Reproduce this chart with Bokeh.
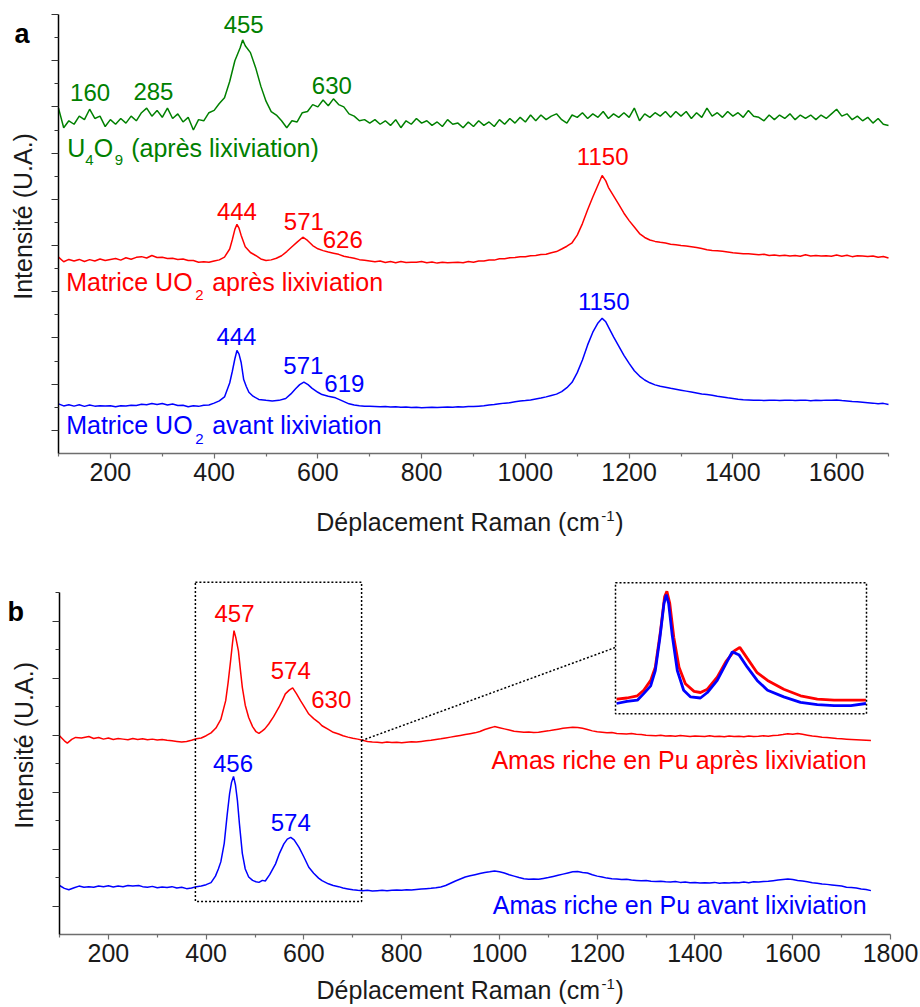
from math import pi
from bokeh.plotting import figure
from bokeh.layouts import column
from bokeh.models import FixedTicker, Range1d, Label
from bokeh.embed import file_html
from bokeh.resources import INLINE

FONT = "Liberation Sans"
GREEN, RED, BLUE = "#008000", "#ff0000", "#0000ff"

# ---------------- panel a data (Raman shift cm-1, stacked intensity a.u.) -------------
GA_X = [100,110,120,130,140,150,160,170,180,190,200,210,220,230,240,250,260,270,280,290,
        300,310,320,330,340,350,360,370,380,390,400,410,420,430,440,450,455,460,470,480,
        490,500,510,520,530,540,550,560,570,580,590,600,610,620,630,640,650,660,670,680,
        690,700,710,720,730,740,750,760,770,780,790,800,810,820,830,840,850,860,870,880,
        890,900,910,920,930,940,950,960,970,980,990,1000,1010,1020,1030,1040,1050,1060,1070,1080,
        1090,1100,1110,1120,1130,1140,1150,1160,1170,1180,1190,1200,1210,1220,1230,1240,1250,1260,1270,1280,
        1290,1300,1310,1320,1330,1340,1350,1360,1370,1380,1390,1400,1410,1420,1430,1440,1450,1460,1470,1480,
        1490,1500,1510,1520,1530,1540,1550,1560,1570,1580,1590,1600,1610,1620,1630,1640,1650,1660,1670,1680,
        1690,1700]
GA_Y = [14.95,14.10,14.40,14.25,14.60,14.45,14.90,14.50,14.60,14.15,14.45,14.25,14.50,14.30,14.60,14.40,14.75,14.95,14.60,14.85,
        14.55,14.95,14.50,14.70,14.35,14.55,14.00,14.45,14.40,14.75,14.85,15.15,15.40,16.10,17.00,17.55,17.90,17.65,17.35,16.70,
        15.90,15.25,14.80,14.65,14.40,14.10,14.40,14.35,14.75,14.80,15.10,15.00,15.30,15.05,15.35,15.10,15.00,14.70,14.60,14.40,
        14.45,14.30,14.45,14.25,14.40,14.20,14.45,14.10,14.40,14.25,14.50,14.30,14.40,14.20,14.35,14.15,14.45,14.25,14.30,14.10,
        14.35,14.15,14.40,14.20,14.35,14.15,14.45,14.25,14.50,14.30,14.55,14.35,14.65,14.40,14.65,14.45,14.60,14.70,14.45,14.30,
        14.65,14.55,14.75,14.50,14.70,14.55,14.80,14.50,14.70,14.55,14.75,14.55,14.95,14.40,14.70,14.55,14.75,14.60,14.80,14.55,
        14.80,14.60,14.80,14.50,14.75,14.55,14.95,14.60,14.75,14.55,14.80,14.60,14.75,14.55,14.85,14.60,14.55,14.40,14.65,14.45,
        14.65,14.50,14.70,14.45,14.65,14.50,14.65,14.45,14.65,14.50,14.70,14.90,14.60,14.70,14.45,14.60,14.40,14.55,14.30,14.50,
        14.25,14.20]

RA_X = [100,110,120,130,140,150,160,170,180,190,200,210,220,230,240,250,260,270,280,290,
        300,310,320,330,340,350,360,370,380,390,400,410,420,430,435,440,444,448,452,460,
        470,480,490,500,510,520,530,540,550,560,571,580,590,600,610,620,630,640,650,660,
        670,680,690,700,710,720,730,740,750,760,770,780,790,800,810,820,830,840,850,860,
        870,880,890,900,910,920,930,940,950,960,970,980,990,1000,1010,1020,1030,1040,1050,1060,
        1070,1080,1090,1100,1110,1120,1130,1140,1148,1155,1160,1170,1180,1190,1200,1210,1220,1230,1240,1250,
        1260,1270,1280,1290,1300,1310,1320,1330,1340,1350,1360,1370,1380,1390,1400,1410,1420,1430,1440,1450,
        1460,1470,1480,1490,1500,1510,1520,1530,1540,1550,1560,1570,1580,1590,1600,1610,1620,1630,1640,1650,
        1660,1670,1680,1690,1700]
RA_Y = [8.50,8.30,8.40,8.33,8.40,8.31,8.39,8.33,8.42,8.35,8.40,8.44,8.37,8.47,8.41,8.49,8.52,8.46,8.57,8.48,
        8.49,8.44,8.45,8.40,8.42,8.35,8.35,8.28,8.30,8.28,8.33,8.38,8.50,8.85,9.25,9.70,9.92,9.75,9.45,8.95,
        8.70,8.57,8.42,8.35,8.38,8.45,8.56,8.74,8.95,9.15,9.36,9.22,9.00,8.86,8.78,8.72,8.67,8.62,8.54,8.49,
        8.45,8.39,8.36,8.33,8.30,8.33,8.27,8.31,8.26,8.31,8.27,8.28,8.28,8.31,8.26,8.29,8.24,8.28,8.26,8.27,
        8.28,8.26,8.31,8.28,8.33,8.33,8.37,8.37,8.43,8.43,8.47,8.48,8.52,8.52,8.56,8.57,8.61,8.62,8.69,8.74,
        8.85,8.97,9.12,9.45,9.95,10.55,11.10,11.62,12.03,11.80,11.52,11.15,10.78,10.40,10.08,9.80,9.52,9.35,9.24,9.18,
        9.14,9.11,9.06,9.03,9.00,8.98,8.95,8.92,8.87,8.82,8.79,8.77,8.75,8.72,8.69,8.67,8.65,8.64,8.62,8.60,
        8.62,8.57,8.59,8.56,8.58,8.55,8.57,8.54,8.60,8.55,8.57,8.55,8.56,8.54,8.59,8.54,8.58,8.52,8.56,8.55,
        8.53,8.55,8.49,8.53,8.46]

BA_X = [100,110,120,130,140,150,160,170,180,190,200,210,220,230,240,250,260,270,280,290,
        300,310,320,330,340,350,360,370,380,390,400,410,420,430,435,440,444,448,452,457,
        462,467,475,486,500,512,525,538,548,557,565,573,581,589,600,608,620,634,645,660,
        670,680,690,700,710,720,730,740,750,760,770,780,790,800,810,820,830,840,850,860,
        870,880,890,900,910,920,930,940,950,960,970,980,990,1000,1010,1020,1030,1040,1050,1060,
        1070,1080,1090,1100,1110,1120,1130,1140,1148,1155,1160,1170,1180,1190,1200,1210,1220,1230,1240,1250,
        1260,1270,1280,1290,1300,1310,1320,1330,1340,1350,1360,1370,1380,1390,1400,1410,1420,1430,1440,1450,
        1460,1470,1480,1490,1500,1510,1520,1530,1540,1550,1560,1570,1580,1590,1600,1610,1620,1630,1640,1650,
        1660,1670,1680,1690,1700]
BA_Y = [2.15,2.06,2.11,2.05,2.11,2.04,2.10,2.05,2.07,2.06,2.07,2.02,2.07,2.06,2.09,2.08,2.13,2.11,2.16,2.12,
        2.16,2.10,2.14,2.08,2.09,2.02,2.07,2.04,2.09,2.10,2.18,2.28,2.45,3.05,3.55,4.10,4.46,4.30,3.95,3.20,
        2.90,2.65,2.48,2.34,2.30,2.27,2.30,2.38,2.58,2.80,2.98,3.09,2.98,2.82,2.65,2.55,2.48,2.41,2.30,2.15,
        2.10,2.07,2.05,2.04,2.03,2.02,2.03,2.01,2.02,2.00,2.01,1.99,2.00,1.98,1.99,2.00,1.99,2.00,2.01,2.00,
        2.02,2.01,2.03,2.03,2.05,2.07,2.10,2.12,2.15,2.18,2.20,2.24,2.27,2.29,2.32,2.36,2.40,2.45,2.51,2.57,
        2.68,2.85,3.08,3.50,4.05,4.70,5.25,5.65,5.85,5.70,5.48,5.05,4.65,4.25,3.90,3.58,3.35,3.18,3.06,2.97,
        2.91,2.87,2.82,2.78,2.74,2.70,2.66,2.62,2.58,2.55,2.52,2.48,2.45,2.41,2.38,2.35,2.33,2.32,2.30,2.31,
        2.29,2.30,2.31,2.29,2.30,2.31,2.29,2.30,2.31,2.28,2.30,2.29,2.31,2.30,2.32,2.29,2.27,2.25,2.24,2.22,
        2.20,2.18,2.15,2.17,2.12]

# ---------------- panel b data --------------------------------------------------------
RB_X = [100,110,116,125,133,145,160,170,180,190,200,210,220,230,240,250,260,270,280,290,
        300,310,320,330,340,350,360,370,380,390,400,410,420,430,440,445,450,454,457,461,
        466,470,474,480,487,495,502,508,515,520,528,538,549,556,562,570,577,585,593,600,
        610,620,630,637,650,660,671,680,690,700,710,720,730,740,750,760,770,780,790,800,
        810,820,830,840,850,860,870,880,890,900,910,920,930,940,950,960,970,980,990,1000,
        1010,1020,1030,1040,1050,1060,1070,1080,1090,1100,1110,1120,1130,1140,1150,1160,1170,1180,1190,1200,
        1210,1220,1230,1240,1250,1260,1270,1280,1290,1300,1310,1320,1330,1340,1350,1360,1370,1380,1390,1400,
        1410,1420,1430,1440,1450,1460,1470,1480,1490,1500,1510,1520,1530,1540,1550,1560,1570,1580,1590,1600,
        1610,1620,1630,1640,1650,1660,1670,1680,1690,1700,1710,1720,1730,1740,1750,1760]
RB_Y = [6.98,6.80,6.72,6.85,6.92,6.90,6.95,6.88,6.92,6.86,6.90,6.85,6.88,6.86,6.84,6.88,6.85,6.87,6.84,6.86,
        6.83,6.85,6.82,6.80,6.78,6.76,6.78,6.82,6.87,6.90,6.98,7.08,7.25,7.55,8.21,8.85,9.61,10.25,10.67,10.40,
        9.96,9.30,8.68,8.05,7.62,7.30,7.12,7.06,7.15,7.22,7.39,7.65,7.98,8.22,8.45,8.58,8.66,8.45,8.21,8.02,
        7.74,7.58,7.45,7.33,7.20,7.10,7.04,6.98,6.93,6.89,6.86,6.82,6.78,6.76,6.75,6.73,6.76,6.74,6.75,6.73,
        6.75,6.77,6.76,6.78,6.80,6.82,6.85,6.87,6.90,6.93,6.96,6.99,7.02,7.05,7.08,7.13,7.20,7.25,7.30,7.26,
        7.22,7.18,7.14,7.12,7.10,7.11,7.09,7.10,7.13,7.15,7.18,7.21,7.24,7.26,7.28,7.27,7.24,7.20,7.15,7.12,
        7.10,7.08,7.09,7.06,7.05,7.04,7.06,7.03,7.02,7.00,6.99,6.98,7.00,6.97,6.98,6.96,6.99,6.97,6.95,6.97,
        6.96,6.95,6.98,6.95,6.96,6.94,6.97,6.95,6.96,6.94,6.97,6.95,6.96,6.98,6.96,6.99,7.00,7.02,7.05,7.03,
        7.06,7.03,7.00,6.97,6.95,6.93,6.92,6.90,6.88,6.87,6.86,6.85,6.84,6.83,6.82,6.81]

BB_X = [100,110,119,130,140,150,160,170,180,190,200,210,220,230,240,250,262,270,280,290,
        300,310,320,330,340,350,360,370,380,390,400,410,419,425,430,437,443,448,452,456,
        460,464,468,474,480,487,495,502,508,515,521,530,542,550,559,566,573,580,590,600,
        610,620,630,637,650,660,671,680,690,700,710,720,730,740,750,760,770,780,790,800,
        810,820,830,840,850,860,870,880,890,900,910,920,930,940,950,960,970,980,990,1000,
        1010,1020,1030,1040,1050,1060,1070,1080,1090,1100,1110,1120,1130,1140,1150,1160,1170,1180,1190,1200,
        1210,1220,1230,1240,1250,1260,1270,1280,1290,1300,1310,1320,1330,1340,1350,1360,1370,1380,1390,1400,
        1410,1420,1430,1440,1450,1460,1470,1480,1490,1500,1510,1520,1530,1540,1550,1560,1570,1580,1590,1600,
        1610,1620,1630,1640,1650,1660,1670,1680,1690,1700,1710,1720,1730,1740,1750,1760]
BB_Y = [1.72,1.62,1.57,1.64,1.70,1.66,1.68,1.66,1.70,1.68,1.71,1.67,1.70,1.68,1.72,1.70,1.72,1.68,1.66,1.69,
        1.64,1.67,1.65,1.68,1.63,1.66,1.61,1.63,1.68,1.70,1.75,1.82,2.05,2.30,2.55,3.20,4.20,4.95,5.35,5.55,
        5.25,4.70,3.90,2.85,2.30,2.02,1.90,1.85,1.83,1.90,1.88,2.10,2.48,2.85,3.18,3.35,3.41,3.32,3.06,2.72,
        2.36,2.15,1.98,1.89,1.78,1.72,1.68,1.63,1.60,1.57,1.55,1.54,1.55,1.53,1.54,1.55,1.54,1.55,1.56,1.55,
        1.57,1.56,1.58,1.60,1.61,1.62,1.64,1.67,1.72,1.80,1.88,1.95,2.02,2.06,2.10,2.14,2.18,2.20,2.23,2.20,
        2.16,2.10,2.05,2.00,1.96,1.94,1.95,1.94,1.97,2.00,2.04,2.08,2.12,2.16,2.20,2.21,2.18,2.16,2.10,2.05,
        2.02,1.98,1.96,1.95,1.93,1.94,1.91,1.90,1.89,1.90,1.87,1.86,1.87,1.85,1.84,1.86,1.83,1.84,1.82,1.83,
        1.81,1.82,1.81,1.83,1.80,1.82,1.81,1.83,1.82,1.84,1.82,1.85,1.84,1.86,1.87,1.89,1.91,1.93,1.95,1.93,
        1.90,1.88,1.85,1.82,1.80,1.77,1.76,1.74,1.72,1.70,1.66,1.65,1.63,1.60,1.58,1.54]

# inset: normalised zoom of the 370-800 cm-1 region
INSET_BX = [371,389,407,418,430,438,446,453,457,461,467,476,487,499,516,528,545,560,571,583,
            597,614,632,660,689,718,747,776,802]
INSET_BY = [0.00,0.02,0.03,0.09,0.16,0.30,0.60,0.91,0.99,0.91,0.63,0.30,0.12,0.06,0.05,0.10,0.21,0.36,0.47,0.44,
            0.33,0.21,0.12,0.06,0.01,-0.01,-0.02,-0.02,0.00]
INSET_RX = [371,389,407,418,430,438,447,454,458,463,470,479,490,505,516,528,545,560,575,584,
            597,614,632,660,689,718,747,776,802]
INSET_RY = [0.04,0.05,0.07,0.12,0.21,0.33,0.66,0.97,1.02,0.91,0.60,0.33,0.18,0.11,0.10,0.13,0.24,0.38,0.48,0.51,
            0.41,0.28,0.21,0.13,0.07,0.04,0.03,0.03,0.03]

# peak annotations: (text, x, baseline y)
PEAKS_A_GREEN = [("160", 161, 15.24), ("285", 283, 15.31), ("455", 457, 18.21), ("630", 627, 15.57)]
PEAKS_A_RED = [("444", 444, 10.12), ("571", 573, 9.68), ("626", 648, 8.90), ("1150", 1149, 12.47)]
PEAKS_A_BLUE = [("444", 443, 4.71), ("571", 572, 3.45), ("619", 651, 2.65), ("1150", 1151, 6.22)]
PEAKS_B_RED = [("457", 458, 10.97), ("574", 573, 8.98), ("630", 656, 7.96)]
PEAKS_B_BLUE = [("456", 455, 5.72), ("574", 573, 3.65)]

XTICKS_A = [200, 400, 600, 800, 1000, 1200, 1400, 1600]
XTICKS_B = [200, 400, 600, 800, 1000, 1200, 1400, 1600, 1800]
XMINOR = [100, 300, 500, 700, 900, 1100, 1300, 1500, 1700]
XLABEL = "Déplacement Raman (cm"
YLABEL = "Intensité (U.A.)"

W = 920


def make_fig(h, xr, yr):
    # the frame fills the whole canvas; axes are pinned with fixed_location
    p = figure(width=W, height=h, x_range=Range1d(*xr), y_range=Range1d(*yr),
               output_backend="svg", toolbar_location=None,
               min_border_left=0, min_border_right=0, min_border_top=0, min_border_bottom=0)
    p.outline_line_color = None
    p.xgrid.visible = False
    p.ygrid.visible = False
    p.background_fill_color = "white"
    p.border_fill_color = "white"
    return p


def style_axes(p, xticks, xbounds, yticks, yminor, ybounds):
    xa = p.xaxis[0]
    xa.fixed_location = ybounds[0]
    xa.ticker = FixedTicker(ticks=xticks, minor_ticks=XMINOR)
    xa.bounds = xbounds
    xa.major_label_text_font = FONT
    xa.major_label_text_font_size = "25px"
    xa.major_label_text_color = "#1a1a1a"
    xa.major_label_standoff = 4
    xa.axis_line_color = "#6e6e6e"
    xa.axis_line_width = 1.5
    xa.major_tick_line_color = "#6e6e6e"
    xa.minor_tick_line_color = "#6e6e6e"
    xa.major_tick_line_width = 1.2
    xa.minor_tick_line_width = 1.2
    xa.major_tick_in = 0
    xa.major_tick_out = 5
    xa.minor_tick_in = 0
    xa.minor_tick_out = 3

    ya = p.yaxis[0]
    ya.fixed_location = xbounds[0]
    ya.ticker = FixedTicker(ticks=yticks, minor_ticks=yminor)
    ya.major_label_overrides = {t: "" for t in yticks}
    ya.bounds = ybounds
    ya.axis_line_color = "black"
    ya.axis_line_width = 1.5
    ya.major_tick_line_color = "#333333"
    ya.minor_tick_line_color = "#333333"
    ya.major_tick_line_width = 1.2
    ya.minor_tick_line_width = 1.2
    ya.major_tick_in = 0
    ya.major_tick_out = 7
    ya.minor_tick_in = 0
    ya.minor_tick_out = 4


def add_text(p, ky, text, x, y, color, size=24, align="center", x_offset=0, angle=0,
             style="normal", centered=False):
    # y is the text baseline (or the centre when centered=True); drawn with a middle baseline
    yc = y if centered else y + 0.35 * size / ky
    p.add_layout(Label(x=x, y=yc, text=text, x_offset=x_offset, angle=angle,
                       text_font=FONT, text_font_size=f"{size}px", text_color=color,
                       text_align=align, text_baseline="middle",
                       text_font_style=style))


def add_xlabel(p, ky, x, y):
    add_text(p, ky, XLABEL, x, y, "#1a1a1a", size=25, align="left")
    add_text(p, ky, "-1", x, y + 9 / ky, "#1a1a1a", size=15, align="left", x_offset=285)
    add_text(p, ky, ")", x, y, "#1a1a1a", size=25, align="left", x_offset=299)


# ================= panel a =================
# layout in pixels: axis x=100 at 58 px, 830 px per 1600 cm-1; y=0 at 453 px, 439 px for 19 units
A_H = 545
A_KX = 830 / 1600
A_KY = 439 / 19
A_X0 = 100 - 58 / A_KX
A_Y1 = 453 / A_KY
pa = make_fig(A_H, (A_X0, A_X0 + W / A_KX), (A_Y1 - A_H / A_KY, A_Y1))
style_axes(pa, XTICKS_A, (100, 1700), list(range(1, 20, 2)), list(range(2, 19, 2)), (0, 19))

pa.line(GA_X, GA_Y, line_color=GREEN, line_width=1.5)
pa.line(RA_X, RA_Y, line_color=RED, line_width=1.5)
pa.line(BA_X, BA_Y, line_color=BLUE, line_width=1.5)

for t, x, y in PEAKS_A_GREEN:
    add_text(pa, A_KY, t, x, y, GREEN)
for t, x, y in PEAKS_A_RED:
    add_text(pa, A_KY, t, x, y, RED)
for t, x, y in PEAKS_A_BLUE:
    add_text(pa, A_KY, t, x, y, BLUE)

# curve labels with subscripts
add_text(pa, A_KY, "U", 116.8, 12.83, GREEN, size=25, align="left")
add_text(pa, A_KY, "4", 116.8, 12.47, GREEN, size=15, align="left", x_offset=18)
add_text(pa, A_KY, "O", 116.8, 12.83, GREEN, size=25, align="left", x_offset=26.5)
add_text(pa, A_KY, "9", 116.8, 12.47, GREEN, size=15, align="left", x_offset=47.5)
add_text(pa, A_KY, "(après lixiviation)", 116.8, 12.83, GREEN, size=25, align="left", x_offset=64)

add_text(pa, A_KY, "Matrice UO", 114.8, 7.06, RED, size=25, align="left")
add_text(pa, A_KY, "2", 114.8, 6.63, RED, size=15, align="left", x_offset=129)
add_text(pa, A_KY, "après lixiviation", 114.8, 7.06, RED, size=25, align="left", x_offset=146)

add_text(pa, A_KY, "Matrice UO", 114.8, 0.85, BLUE, size=25, align="left")
add_text(pa, A_KY, "2", 114.8, 0.42, BLUE, size=15, align="left", x_offset=129)
add_text(pa, A_KY, "avant lixiviation", 114.8, 0.85, BLUE, size=25, align="left", x_offset=146)

add_text(pa, A_KY, "a", 15.2, 17.74, "black", size=27, align="left", style="bold")
add_text(pa, A_KY, YLABEL, 32.5, 10.26, "#1a1a1a", size=25, angle=pi / 2, centered=True)
add_xlabel(pa, A_KY, 597, -3.33)

# ================= panel b =================
# axis x=100 at 59 px, 831 px per 1700 cm-1; y=0 at 389 px from the top, 28.48 px per unit
B_H = 462
B_KX = 831 / 1700
B_KY = 356 / 12.5
B_X0 = 100 - 59 / B_KX
B_Y1 = 389 / B_KY
pb = make_fig(B_H, (B_X0, B_X0 + W / B_KX), (B_Y1 - B_H / B_KY, B_Y1))
style_axes(pb, XTICKS_B, (100, 1800), list(range(1, 12, 2)), list(range(2, 13, 2)), (0, 12))

pb.line(RB_X, RB_Y, line_color=RED, line_width=1.5)
pb.line(BB_X, BB_Y, line_color=BLUE, line_width=1.5)

for t, x, y in PEAKS_B_RED:
    add_text(pb, B_KY, t, x, y, RED)
for t, x, y in PEAKS_B_BLUE:
    add_text(pb, B_KY, t, x, y, BLUE)

add_text(pb, B_KY, "Amas riche en Pu après lixiviation", 1751, 5.82, RED, size=25, align="right")
add_text(pb, B_KY, "Amas riche en Pu avant lixiviation", 1751, 0.73, BLUE, size=25, align="right")
add_text(pb, B_KY, "b", -6.4, 11.0, "black", size=27, align="left", style="bold")
add_text(pb, B_KY, YLABEL, 26.4, 6.64, "#1a1a1a", size=25, angle=pi / 2, centered=True)
add_xlabel(pb, B_KY, 625.8, -2.25)

# zoom box (dotted) around the 380-720 cm-1 region
ZOOM_X0, ZOOM_X1, ZOOM_Y0, ZOOM_Y1 = 378, 718, 1.16, 12.37
pb.quad(left=[ZOOM_X0], right=[ZOOM_X1], bottom=[ZOOM_Y0], top=[ZOOM_Y1],
        fill_color=None, line_color="black", line_width=1.5, line_dash="2 2")

# inset placed with its own ranges: pixel box of the inset inside the canvas
INSET_PX = (615.0, 866.0)   # from the left edge
INSET_PY = (304.0, 414.0)   # heights (from the bottom edge) of inset values 0 and 1
INSET_XV = (369.2, 803.0)
k = (INSET_PX[1] - INSET_PX[0]) / (INSET_XV[1] - INSET_XV[0])
ix0 = INSET_XV[0] - INSET_PX[0] / k
ky = INSET_PY[1] - INSET_PY[0]
iy0 = -INSET_PY[0] / ky
pb.extra_x_ranges = {"ix": Range1d(ix0, ix0 + W / k)}
pb.extra_y_ranges = {"iy": Range1d(iy0, iy0 + B_H / ky)}

pb.line(INSET_RX, INSET_RY, line_color=RED, line_width=2.8, x_range_name="ix", y_range_name="iy")
pb.line(INSET_BX, INSET_BY, line_color=BLUE, line_width=2.8, x_range_name="ix", y_range_name="iy")
pb.quad(left=[INSET_XV[0]], right=[INSET_XV[1]], bottom=[-0.094], top=[1.097],
        fill_color=None, line_color="black", line_width=1.5, line_dash="2 2",
        x_range_name="ix", y_range_name="iy")

# connector from the zoom box to the inset
pb.segment(x0=[ZOOM_X1], y0=[6.81], x1=[1237.6], y1=[10.08],
           line_color="black", line_width=1.5, line_dash="2 2")

layout = column(pa, pb, spacing=0)
open("out.html", "w").write(file_html(layout, INLINE))
